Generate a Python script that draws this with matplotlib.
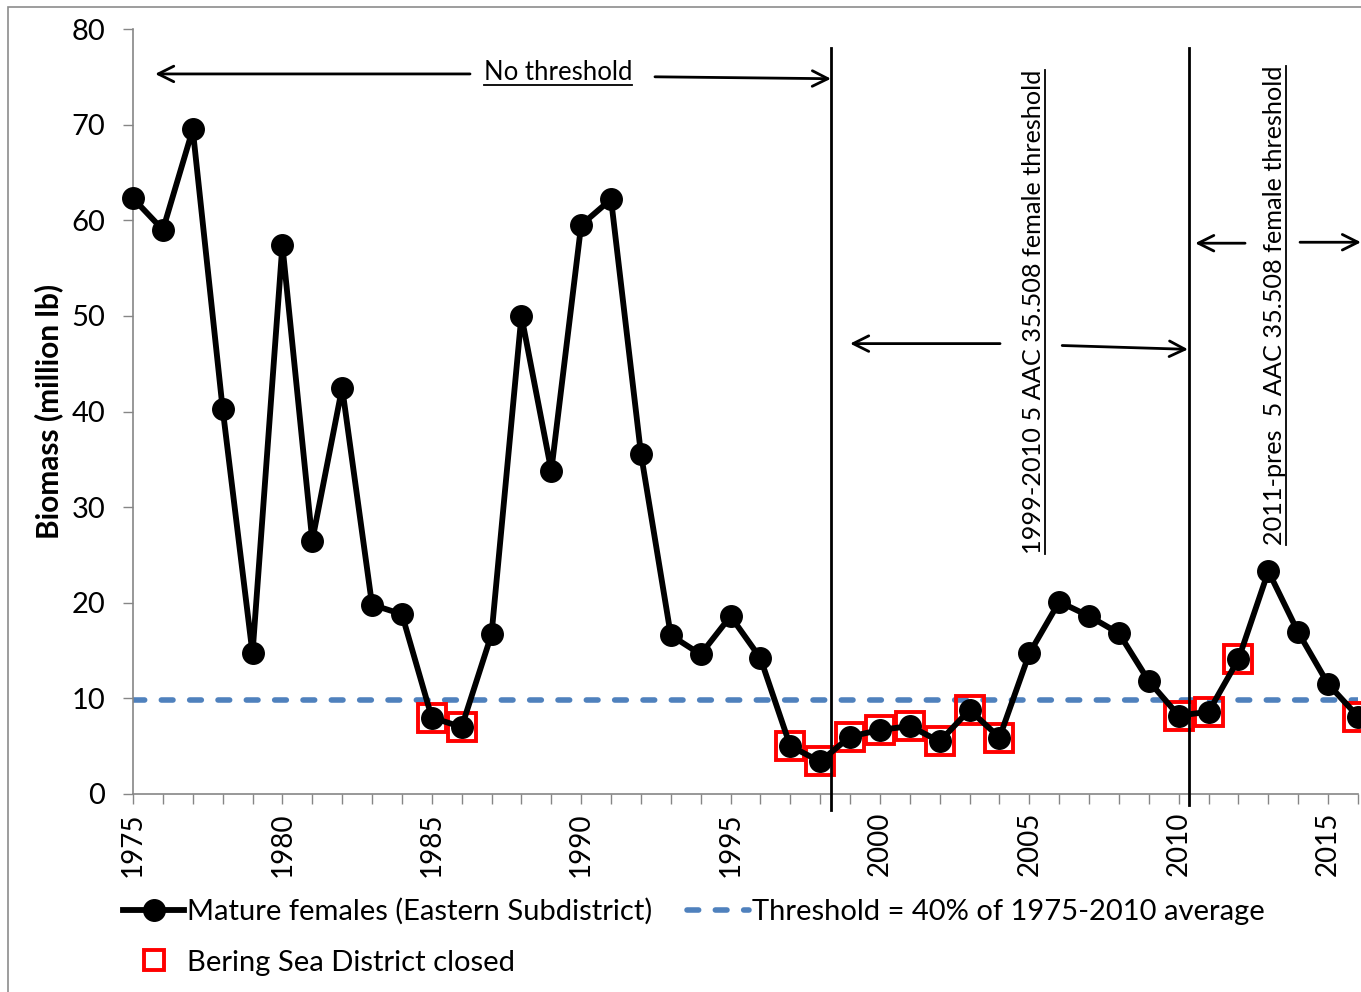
import matplotlib
matplotlib.use("Agg")
import matplotlib.pyplot as plt
from matplotlib.patches import Rectangle
from matplotlib.lines import Line2D

# Mature female biomass, Eastern Subdistrict (million lb)
years = list(range(1975, 2017))
biomass = [62.3, 59.0, 69.5, 40.3, 14.7, 57.4, 26.5, 42.5, 19.8, 18.8,
           8.0, 7.0, 16.7, 50.0, 33.8, 59.5, 62.2, 35.6, 16.6, 14.6,
           18.6, 14.2, 5.0, 3.4, 6.0, 6.7, 7.1, 5.5, 8.8, 5.9,
           14.7, 20.1, 18.6, 16.8, 11.8, 8.2, 8.6, 14.1, 23.3, 16.9,
           11.5, 8.1]
threshold = 9.8
closed_years = [1985, 1986, 1997, 1998, 1999, 2000, 2001, 2002, 2003, 2004,
                2010, 2011, 2012, 2016]
regime_breaks = [1998.36, 2010.35]

xticks_major = list(range(1975, 2016, 5))
yticks = list(range(0, 81, 10))

FONT = "Lato"
plt.rcParams["font.family"] = [FONT, "DejaVu Sans"]
GREY = "#868686"

fig = plt.figure(figsize=(13.61, 9.92), dpi=100)
ax = fig.add_axes([133 / 1361, 1 - 794 / 992, (1358 - 133) / 1361, (794 - 29) / 992])

# outer chart frame (Excel style)
fig.patches.append(Rectangle((8 / 1361, -0.1), 2, 1 - 7 / 992 + 0.1,
                             transform=fig.transFigure, fill=False,
                             edgecolor="#8c8c8c", lw=1.2))

closed_vals = [biomass[years.index(y)] for y in closed_years]

ax.plot(years, [threshold] * len(years), color="#4f81bd", lw=4.0,
        dashes=(2.1, 3.0), dash_capstyle="round", zorder=2,
        label="Threshold = 40% of 1975-2010 average")
ax.plot(closed_years, closed_vals, ls="none", marker="s", ms=19.5,
        mfc="none", mec="#ff0000", mew=2.8, zorder=3, clip_on=False,
        label="Bering Sea District closed")
ax.plot(years, biomass, color="black", lw=4.2, marker="o", ms=15.5,
        zorder=4, clip_on=False,
        label="Mature females (Eastern Subdistrict)")

# regime boundaries
for xb, ybot in zip(regime_breaks, [-1.7, -1.2]):
    ax.plot([xb, xb], [ybot, 78.0], color="black", lw=2, zorder=5,
            clip_on=False)


def arrow(x0, y0, x1, y1):
    ax.annotate("", xy=(x1, y1), xytext=(x0, y0), annotation_clip=False,
                arrowprops=dict(arrowstyle="->", lw=2, color="black",
                                shrinkA=0, shrinkB=0, mutation_scale=28))


arrow(1986.28, 75.3, 1975.74, 75.3)
arrow(1992.47, 75.0, 1998.36, 74.8)
arrow(2004.02, 47.1, 1999.0, 47.1)
arrow(2006.1, 46.9, 2010.31, 46.5)
arrow(2012.22, 57.6, 2010.55, 57.6)
arrow(2014.06, 57.7, 2016.1, 57.7)

t1 = ax.text(1989.23, 75.4, "No threshold", ha="center", va="center",
             fontsize=18.5)
t2 = ax.text(2005.13, 50.4, "1999-2010 5 AAC 35.508 female threshold",
             rotation=90, ha="center", va="center", fontsize=18.2)
t3 = ax.text(2013.22, 51.1, "2011-pres  5 AAC 35.508 female threshold",
             rotation=90, ha="center", va="center", fontsize=18.2)

ax.set_xlim(1975, 2016)
ax.set_ylim(0, 80)
ax.set_xticks(xticks_major)
ax.set_xticklabels([str(y) for y in xticks_major], rotation=90, fontsize=20)
ax.set_xticks(years, minor=True)
ax.set_yticks(yticks)
ax.set_yticklabels([str(v) for v in yticks], fontsize=21)
ax.tick_params(axis="both", which="both", direction="out", length=7,
               width=1, color=GREY)
ax.tick_params(axis="y", pad=13)
ax.tick_params(axis="x", pad=6)

for side in ["top", "right"]:
    ax.spines[side].set_visible(False)
for side in ["left", "bottom"]:
    ax.spines[side].set_color(GREY)
    ax.spines[side].set_linewidth(1.2)

ax.set_ylabel("Biomass (million lb)", fontsize=21.5, fontweight="bold",
              labelpad=6)

h, l = ax.get_legend_handles_labels()
order = [2, 1, 0]
leg = fig.legend([h[i] for i in order], [l[i] for i in order], ncol=2,
                 loc="upper left", bbox_to_anchor=(123 / 1361, 1 - 898 / 992),
                 frameon=False, fontsize=21, handlelength=2.1,
                 handletextpad=0.1, columnspacing=1.2, labelspacing=0.85,
                 borderpad=0, borderaxespad=0)
leg.legend_handles[1].set_markersize(15)

# underline the annotation texts
fig.canvas.draw()
r = fig.canvas.get_renderer()
inv = fig.transFigure.inverted()
for t in [t1, t2, t3]:
    bb = t.get_window_extent(r).transformed(inv)
    if t.get_rotation() == 90:
        xs, ys = [bb.x1, bb.x1], [bb.y0, bb.y1]
    else:
        xs, ys = [bb.x0, bb.x1], [bb.y0, bb.y0]
    fig.add_artist(Line2D(xs, ys, transform=fig.transFigure,
                          color="black", lw=1.3))

fig.savefig("out.png", dpi=100)
